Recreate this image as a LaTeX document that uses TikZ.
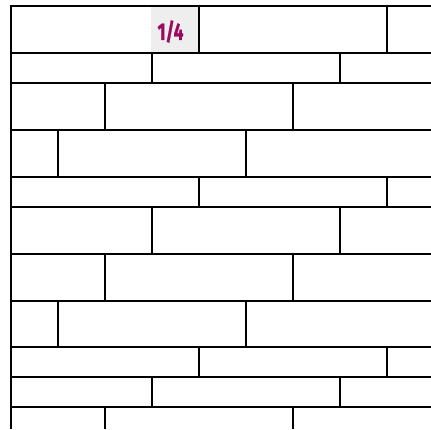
\documentclass[tikz,border=0pt]{standalone}
\usepackage{fontspec}
\newfontfamily\labelfont{Fira Sans}[BoldFeatures={FakeBold=1.2}]
\definecolor{fracpurple}{HTML}{9A0B60}
\definecolor{cellgray}{HTML}{EEEEEE}
\begin{document}
\begin{tikzpicture}[x=1pt, y=-1pt, line width=2pt]
    \useasboundingbox (0,0) rectangle (431,429);
    \def\L{11}
    \def\W{431}
    \def\B{188}
    
    % Label cell
    \fill[cellgray] (151,6) rectangle (198,52.5);
    \node[font=\labelfont\bfseries\fontsize{24}{24}\selectfont, text=fracpurple] (frac) at (170.5,31.5) {\scalebox{0.72}[1]{1/4}};
    
    % Course lines
    \foreach \y in {52.5,83,130,176.5,207,254,300.5,346.5,377,407}
        \draw (\L,\y) -- (\W,\y);
    \draw[line width=2.5pt] (\L,6) -- (\W,6);
    
    % Left edge
    \draw (\L,4.8) -- (\L,429);
    
    % Head joints
    \foreach \top/\bot/\s in {6/52.5/0, 52.5/83/1, 83/130/2, 130/176.5/3, 176.5/207/0, 207/254/1, 254/300.5/2, 300.5/346.5/3, 346.5/377/0, 377/407/1, 407/429/2}
        \foreach \k in {0,1}
            \draw ({199-47*\s+\B*\k},\top) -- ({199-47*\s+\B*\k},\bot);
\end{tikzpicture}
\end{document}
